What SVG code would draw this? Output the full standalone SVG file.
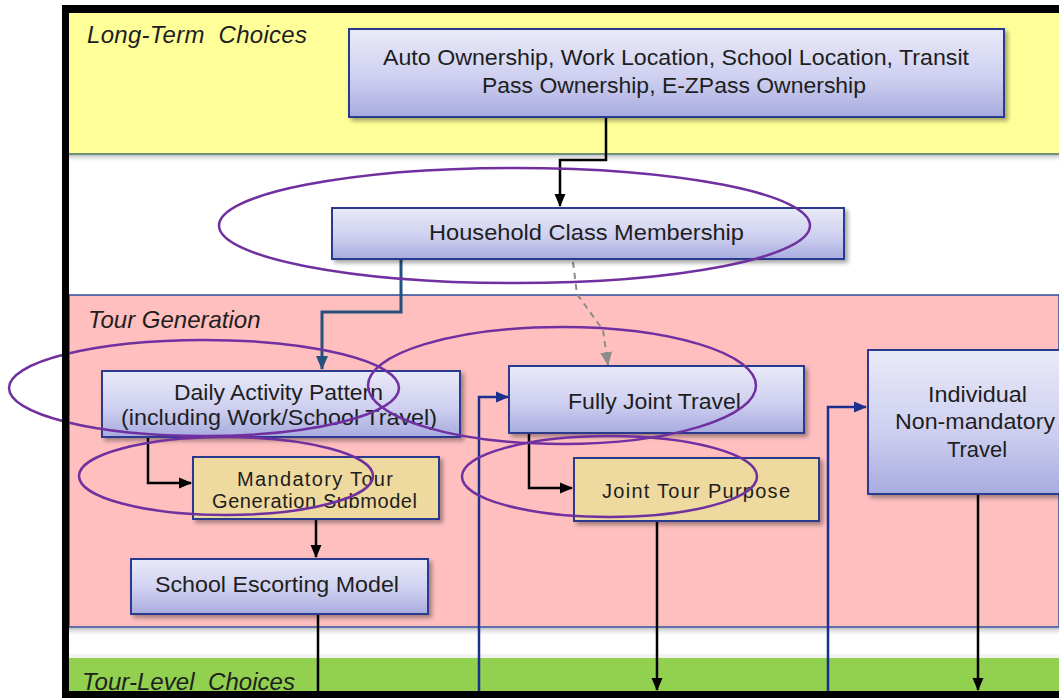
<svg xmlns="http://www.w3.org/2000/svg" width="1059" height="698" viewBox="0 0 1059 698">
<style>
.sec{font-family:"Liberation Sans",Arial,sans-serif;font-style:italic;font-size:24px;fill:#1e1e1e}
.t{font-family:"Liberation Sans",Arial,sans-serif;font-size:22px;fill:#1e1e1e;text-anchor:start}
.ts{font-family:"Liberation Sans",Arial,sans-serif;font-size:20px;fill:#1e1e1e}
.box{fill:url(#g);stroke:#2b3a8f;stroke-width:2;filter:url(#sh)}
.tan{fill:#eed99f;stroke:#2b3a8f;stroke-width:2;filter:url(#sh)}
.k{fill:none;stroke:#000;stroke-width:2.5}
.nb{fill:none;stroke:#1b2f8e;stroke-width:2.5}
.sb{fill:none;stroke:#24517f;stroke-width:3}
.el{fill:none;stroke:#7030a0;stroke-width:2.5}
</style>
<defs>
<linearGradient id="g" x1="0" y1="0" x2="0" y2="1">
<stop offset="0" stop-color="#e9eaf8"/>
<stop offset="0.55" stop-color="#cfd0f0"/>
<stop offset="1" stop-color="#a8abdf"/>
</linearGradient>
<linearGradient id="fade" x1="0" y1="0" x2="0" y2="1">
<stop offset="0" stop-color="#9a9a9a" stop-opacity="0.6"/>
<stop offset="1" stop-color="#ffffff" stop-opacity="0"/>
</linearGradient>
<filter id="sh" x="-5%" y="-10%" width="115%" height="130%">
<feDropShadow dx="3" dy="3" stdDeviation="2" flood-color="#000" flood-opacity="0.35"/>
</filter>
<marker id="ak" markerUnits="userSpaceOnUse" markerWidth="13" markerHeight="13" viewBox="0 0 13 13" refX="12" refY="6.5" orient="auto">
<path d="M0,1 L13,6.5 L0,12 z" fill="#000"/>
</marker>
<marker id="an" markerUnits="userSpaceOnUse" markerWidth="13" markerHeight="13" viewBox="0 0 13 13" refX="12" refY="6.5" orient="auto">
<path d="M0,1 L13,6.5 L0,12 z" fill="#1b2f8e"/>
</marker>
<marker id="as" markerUnits="userSpaceOnUse" markerWidth="14" markerHeight="14" viewBox="0 0 14 14" refX="13" refY="7" orient="auto">
<path d="M0,1 L14,7 L0,13 z" fill="#24517f"/>
</marker>
<marker id="ag" markerUnits="userSpaceOnUse" markerWidth="14" markerHeight="14" viewBox="0 0 14 14" refX="13" refY="7" orient="auto">
<path d="M0,1 L14,7 L0,13 z" fill="#8c8c8c"/>
</marker>
</defs>

<rect x="0" y="0" width="1059" height="698" fill="#ffffff"/>
<g id="bands">
<rect x="69" y="13" width="990" height="141" fill="#ffff99"/>
<rect x="69" y="155" width="990" height="8" fill="url(#fade)"/>
<line x1="69" y1="154" x2="1059" y2="154" stroke="#3c6d5f" stroke-width="1.5"/>
<rect x="69" y="295" width="990" height="332" fill="#ffbfbf" stroke="#2f4c9c" stroke-width="1.5"/>
<rect x="69" y="628" width="990" height="9" fill="url(#fade)"/>
<rect x="69" y="658" width="990" height="33" fill="#92d050"/>
<rect x="69" y="654" width="990" height="4" fill="#e9e9e9" opacity="0.6"/>
<text class="sec" x="87" y="43" textLength="220" lengthAdjust="spacing" xml:space="preserve">Long-Term  Choices</text>
<text class="sec" x="88" y="328">Tour Generation</text>
<text class="sec" x="82" y="690" textLength="213" lengthAdjust="spacing" xml:space="preserve">Tour-Level  Choices</text>
</g>

<g id="connectors">
<polyline class="k" points="606,117 606,160 560,160 560,206" marker-end="url(#ak)"/>
<polyline class="sb" points="401,259 401,312 322,312 322,369" marker-end="url(#as)"/>
<polyline fill="none" stroke="#8c8c8c" stroke-width="2" stroke-dasharray="6,5" points="573,262 577,294 603,330 608,365" marker-end="url(#ag)"/>
<polyline class="k" points="148,437 148,483 191,483" marker-end="url(#ak)"/>
<line class="k" x1="316" y1="519" x2="316" y2="557" marker-end="url(#ak)"/>
<line class="k" x1="318" y1="614" x2="318" y2="691"/>
<polyline class="k" points="529,433 529,488 572,488" marker-end="url(#ak)"/>
<line class="k" x1="657" y1="521" x2="657" y2="690" marker-end="url(#ak)"/>
<polyline class="nb" points="479,691 479,397 508,397" marker-end="url(#an)"/>
<polyline class="nb" points="828,691 828,407 866,407" marker-end="url(#an)"/>
<line class="k" x1="978" y1="494" x2="978" y2="690" marker-end="url(#ak)"/>
</g>

<g id="n-longterm">
<rect class="box" x="349" y="29" width="655" height="88"/>
<text class="t" x="383" y="65" textLength="586" lengthAdjust="spacingAndGlyphs">Auto Ownership, Work Location, School Location, Transit</text>
<text class="t" x="482" y="93" textLength="384" lengthAdjust="spacingAndGlyphs">Pass Ownership, E-ZPass Ownership</text>
</g>
<g id="n-household">
<rect class="box" x="332" y="208" width="512" height="51"/>
<text class="t" x="429" y="240" textLength="315" lengthAdjust="spacingAndGlyphs">Household Class Membership</text>
</g>
<g id="n-daily">
<rect class="box" x="102" y="371" width="358" height="66"/>
<text class="t" x="174" y="400" textLength="209" lengthAdjust="spacingAndGlyphs">Daily Activity Pattern</text>
<text class="t" x="121" y="425" textLength="316" lengthAdjust="spacingAndGlyphs">(including Work/School Travel)</text>
</g>
<g id="n-mandatory">
<rect class="tan" x="193" y="457" width="246" height="62"/>
<text class="ts" x="237" y="486" textLength="156" lengthAdjust="spacing">Mandatory Tour</text>
<text class="ts" x="212" y="508" textLength="205" lengthAdjust="spacing">Generation Submodel</text>
</g>
<g id="n-school">
<rect class="box" x="131" y="559" width="297" height="55"/>
<text class="t" x="155" y="592" textLength="244" lengthAdjust="spacingAndGlyphs">School Escorting Model</text>
</g>
<g id="n-fullyjoint">
<rect class="box" x="509" y="366" width="295" height="67"/>
<text class="t" x="568" y="409" textLength="173" lengthAdjust="spacingAndGlyphs">Fully Joint Travel</text>
</g>
<g id="n-jointpurpose">
<rect class="tan" x="574" y="458" width="245" height="63"/>
<text class="ts" x="602" y="498" textLength="188" lengthAdjust="spacing">Joint Tour Purpose</text>
</g>
<g id="n-individual">
<rect class="box" x="868" y="350" width="200" height="144"/>
<text class="t" x="928" y="402" textLength="99" lengthAdjust="spacingAndGlyphs">Individual</text>
<text class="t" x="895" y="429" textLength="160" lengthAdjust="spacingAndGlyphs">Non-mandatory</text>
<text class="t" x="947" y="457" textLength="60" lengthAdjust="spacingAndGlyphs">Travel</text>
</g>

<g id="highlights">
<ellipse class="el" cx="514.5" cy="225.5" rx="295.5" ry="57.5"/>
<ellipse class="el" cx="204" cy="388" rx="195" ry="48"/>
<ellipse class="el" cx="562" cy="385.5" rx="194" ry="58.5"/>
<ellipse class="el" cx="226" cy="476" rx="147" ry="39"/>
<ellipse class="el" cx="609.5" cy="476.5" rx="147.5" ry="40.5"/>
</g>

<g id="frame">
<rect x="62" y="5" width="7" height="693" fill="#000"/>
<rect x="62" y="5" width="997" height="8" fill="#000"/>
<rect x="62" y="691" width="997" height="7" fill="#000"/>
</g>
</svg>
